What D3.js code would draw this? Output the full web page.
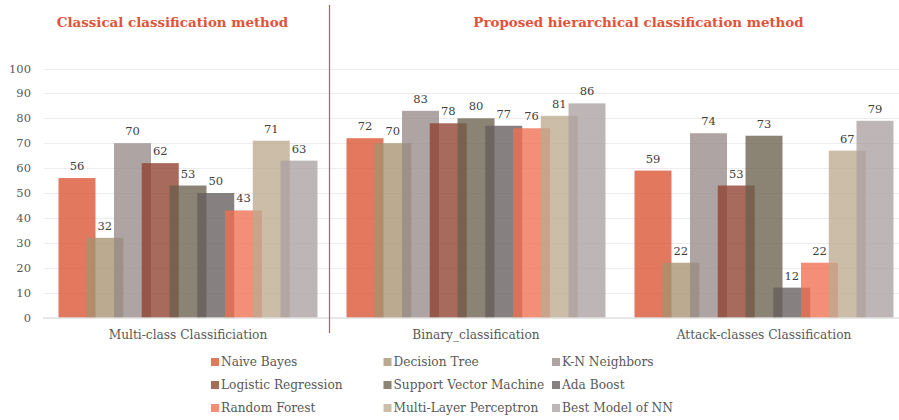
<!DOCTYPE html>
<html>
<head>
<meta charset="utf-8">
<script src="https://cdn.jsdelivr.net/npm/d3@7"></script>
<style>
  body { margin: 0; background: #fff; }
  text { font-family: "DejaVu Serif", serif; }
</style>
</head>
<body>
<div id="chart"></div>
<script>
var width = 899,
    height = 420;

// data
var categories = ["Multi-class Classificiation", "Binary_classification", "Attack-classes Classification"];
var series = ["Naive Bayes", "Decision Tree", "K-N Neighbors", "Logistic Regression",
              "Support Vector Machine", "Ada Boost", "Random Forest", "Multi-Layer Perceptron", "Best Model of NN"];
var multiClass = [56, 32, 70, 62, 53, 50, 43, 71, 63];
var binaryClass = [72, 70, 83, 78, 80, 77, 76, 81, 86];
var attackClass = [59, 22, 74, 53, 73, 12, 22, 67, 79];
var yTicks = [0, 10, 20, 30, 40, 50, 60, 70, 80, 90, 100];
var titles = ["Classical classification method", "Proposed hierarchical classification method"];

var colors = ["#da5231", "#a69270", "#968a89", "#8f402e", "#6a604b", "#655c5c", "#ee6f4f", "#beaa8f", "#aaa0a1"];
var values = [multiClass, binaryClass, attackClass];

var svg = d3.select("#chart").append("svg")
    .attr("width", width)
    .attr("height", height);

var x = d3.scaleBand()
    .domain(categories)
    .range([44, 908]);

var xs = d3.scalePoint()
    .domain(series)
    .range([-111, 111]);

var barW = 37;

var y = d3.scaleLinear()
    .domain([0, 100])
    .range([317.5, 68.5]);

var z = d3.scaleOrdinal()
    .domain(series)
    .range(colors);

// grid
svg.append("g")
  .selectAll("line")
  .data(yTicks.slice(1))
  .enter().append("line")
    .attr("x1", 44).attr("x2", width)
    .attr("y1", function(d) { return Math.round(y(d)) + 0.5; })
    .attr("y2", function(d) { return Math.round(y(d)) + 0.5; })
    .attr("stroke", "#ececec");

// y labels
svg.append("g")
  .selectAll("text")
  .data(yTicks)
  .enter().append("text")
    .attr("x", 31)
    .attr("y", function(d) { return y(d); })
    .attr("dy", "0.35em")
    .attr("text-anchor", "end")
    .attr("font-size", 11.5)
    .attr("fill", "#595959")
    .text(function(d) { return d; });

// bars
var rows = [];
categories.forEach(function(c, ci) {
  series.forEach(function(s, si) {
    rows.push({cat: c, key: s, value: values[ci][si]});
  });
});

var bars = svg.append("g");
bars.selectAll("rect")
  .data(rows)
  .enter().append("rect")
    .attr("x", function(d) { return x(d.cat) + x.bandwidth() / 2 + xs(d.key) - barW / 2; })
    .attr("y", function(d) { return y(d.value); })
    .attr("width", barW)
    .attr("height", function(d) { return y(0) - y(d.value); })
    .attr("fill", function(d) { return z(d.key); })
    .attr("fill-opacity", 0.78);

// value labels
svg.append("g")
  .selectAll("text")
  .data(rows)
  .enter().append("text")
    .attr("x", function(d) { return x(d.cat) + x.bandwidth() / 2 + xs(d.key); })
    .attr("y", function(d) { return y(d.value) - 8; })
    .attr("text-anchor", "middle")
    .attr("font-size", 11.5)
    .attr("fill", "#404040")
    .text(function(d) { return d.value; });

// baseline
svg.append("line")
    .attr("x1", 43).attr("x2", width)
    .attr("y1", y(0) + 0.5).attr("y2", y(0) + 0.5)
    .attr("stroke", "#d0d0d0");

// category labels
svg.append("g")
  .selectAll("text")
  .data(categories)
  .enter().append("text")
    .attr("x", function(d) { return x(d) + x.bandwidth() / 2; })
    .attr("y", 339)
    .attr("text-anchor", "middle")
    .attr("font-size", 12.2)
    .attr("fill", "#595959")
    .text(function(d) { return d; });

// divider
svg.append("line")
    .attr("x1", 329.5).attr("x2", 329.5)
    .attr("y1", 5).attr("y2", 333)
    .attr("stroke", "#d9523a")
    .attr("stroke-width", 1.2);

// titles
svg.append("g")
  .selectAll("text")
  .data(titles)
  .enter().append("text")
    .attr("x", function(d, i) { return i === 0 ? 172.5 : 638.5; })
    .attr("y", 27)
    .attr("text-anchor", "middle")
    .attr("font-size", 13.4)
    .attr("font-weight", "bold")
    .attr("fill", "#e0533a")
    .text(function(d) { return d; });

// legend
var legendX = [211, 383.5, 552];
var legend = svg.append("g")
  .selectAll("g")
  .data(series)
  .enter().append("g")
    .attr("transform", function(d, i) {
      return "translate(" + legendX[i % 3] + "," + (362 + Math.floor(i / 3) * 23) + ")";
    });

legend.append("rect")
    .attr("y", -4)
    .attr("width", 8)
    .attr("height", 8)
    .attr("fill", z)
    .attr("fill-opacity", 0.78);

legend.append("text")
    .attr("x", 10)
    .attr("dy", "0.35em")
    .attr("font-size", 12.2)
    .attr("fill", "#595959")
    .text(function(d) { return d; });
</script>
</body>
</html>
